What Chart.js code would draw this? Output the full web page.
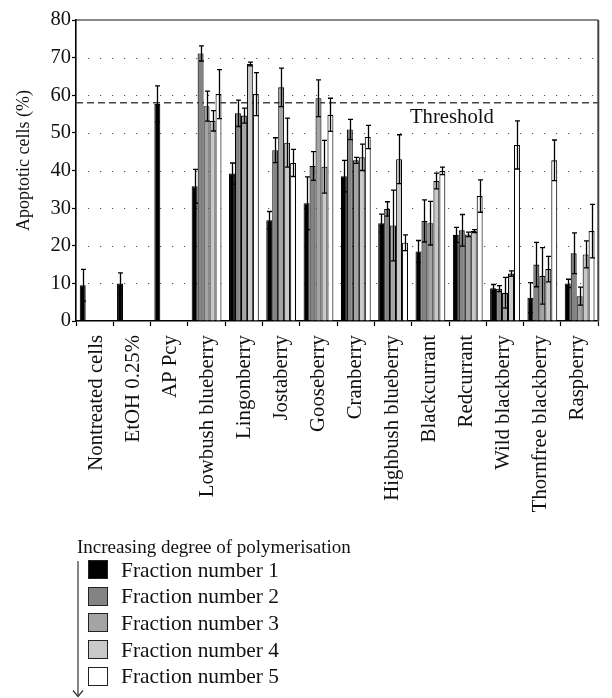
<!DOCTYPE html>
<html>
<head>
<meta charset="utf-8">
<script src="https://cdn.jsdelivr.net/npm/chart.js@4/dist/chart.umd.min.js"></script>
<style>
html,body{margin:0;padding:0;background:#fff;}
#wrap{position:relative;width:612px;height:698px;overflow:hidden;}
#c{position:absolute;left:0;top:0;}
.lg{position:absolute;font-family:"Liberation Serif","DejaVu Serif",serif;color:#111;white-space:nowrap;}
.box{position:absolute;box-sizing:border-box;border:1.3px solid #222;}
svg{position:absolute;left:0;top:0;pointer-events:none;}
</style>
</head>
<body>
<div id="wrap">
<canvas id="c" width="612" height="698"></canvas>
<div id="legend"></div>
<svg width="612" height="698"><line x1="78" y1="561" x2="78" y2="696" stroke="#333" stroke-width="1.2"/><polyline points="73,690.5 78,696.5 83,690.5" fill="none" stroke="#333" stroke-width="1.2"/></svg>
</div>
<script>
// ---- data ----
const categories = ['Nontreated cells','EtOH 0.25%','AP Pcy','Lowbush blueberry','Lingonberry','Jostaberry','Gooseberry','Cranberry','Highbush blueberry','Blackcurrant','Redcurrant','Wild blackberry','Thornfree blackberry','Raspberry'];
const seriesLabels = ['Fraction number 1','Fraction number 2','Fraction number 3','Fraction number 4','Fraction number 5'];
const fraction1 = [9.5, 10.0, 57.7, 35.8, 39.2, 26.8, 31.3, 38.5, 26.0, 18.5, 22.9, 8.7, 6.2, 10.0];
const fraction2 = [0, 0, 0, 71.1, 55.2, 45.4, 41.2, 50.9, 29.8, 26.6, 24.1, 8.6, 15.0, 18.0];
const fraction3 = [0, 0, 0, 57.1, 54.6, 62.1, 59.2, 42.7, 25.4, 26.0, 23.0, 7.5, 12.0, 6.6];
const fraction4 = [0, 0, 0, 53.2, 68.3, 47.4, 41.0, 43.5, 43.0, 37.2, 23.9, 12.6, 13.8, 17.7];
const fraction5 = [0, 0, 0, 60.3, 60.3, 42.0, 54.8, 48.9, 20.8, 39.9, 33.2, 46.8, 42.7, 23.9];
const error1 = [4.2, 2.8, 4.8, 4.5, 2.8, 2.3, 7.0, 4.2, 2.4, 2.9, 2.0, 1.0, 4.0, 1.1];
const error2 = [0, 0, 0, 2.0, 3.5, 3.3, 3.8, 2.7, 1.9, 5.6, 4.2, 0.8, 5.9, 5.4];
const error3 = [0, 0, 0, 4.0, 2.0, 5.1, 4.9, 0.8, 9.4, 5.8, 0.6, 4.1, 7.5, 2.4];
const error4 = [0, 0, 0, 2.7, 0.5, 6.5, 7.0, 3.5, 6.5, 2.1, 0.4, 0.7, 3.4, 3.6];
const error5 = [0, 0, 0, 6.5, 5.7, 3.6, 4.4, 3.1, 2.1, 1.0, 4.3, 6.4, 5.4, 7.1];
const yTicks = [0, 10, 20, 30, 40, 50, 60, 70, 80];
const thresholdValue = 58;
const thresholdLabel = 'Threshold';
const yAxisTitle = 'Apoptotic cells (%)';
const legendTitle = 'Increasing degree of polymerisation';

// ---- styling ----
const SERIF = '"Liberation Serif","DejaVu Serif",serif';
const fills = ['#000000', '#838383', '#a4a4a4', '#c9c9c9', '#ffffff'];
const values = [fraction1, fraction2, fraction3, fraction4, fraction5];
const errors = [error1, error2, error3, error4, error5];

const datasets = seriesLabels.map((lab, i) => ({
  label: lab,
  data: values[i],
  backgroundColor: fills[i],
  borderColor: '#000',
  borderWidth: 1.1,
  categoryPercentage: 0.8,
  barPercentage: 1.0
}));

const decor = {
  id: 'decor',
  beforeDatasetsDraw(chart) {
    const ctx = chart.ctx, a = chart.chartArea, y = chart.scales.y;
    ctx.save();
    // dotted grid
    ctx.strokeStyle = '#555';
    ctx.lineWidth = 1;
    ctx.setLineDash([1.2, 10.8]);
    yTicks.forEach(v => {
      if (v === yTicks[0] || v === yTicks[yTicks.length - 1]) return;
      const py = Math.round(y.getPixelForValue(v)) + 0.5;
      ctx.beginPath(); ctx.moveTo(a.left + 12, py); ctx.lineTo(a.right, py); ctx.stroke();
    });
    // threshold
    ctx.setLineDash([7, 4]);
    ctx.strokeStyle = '#444';
    ctx.lineWidth = 1.6;
    const ty = y.getPixelForValue(thresholdValue);
    ctx.beginPath(); ctx.moveTo(a.left, ty); ctx.lineTo(a.right, ty); ctx.stroke();
    // frame
    ctx.setLineDash([]);
    ctx.strokeStyle = '#111';
    ctx.lineWidth = 1.2;
    ctx.beginPath(); ctx.moveTo(a.left, a.top); ctx.lineTo(a.right, a.top); ctx.stroke();
    ctx.strokeStyle = '#444';
    ctx.lineWidth = 2;
    ctx.beginPath(); ctx.moveTo(a.right, a.top); ctx.lineTo(a.right, a.bottom); ctx.stroke();
    ctx.restore();
  },
  afterDatasetsDraw(chart) {
    const ctx = chart.ctx, a = chart.chartArea, y = chart.scales.y;
    ctx.save();
    ctx.strokeStyle = '#000';
    ctx.lineWidth = 1.3;
    values.forEach((vals, i) => {
      const meta = chart.getDatasetMeta(i);
      meta.data.forEach((bar, j) => {
        const e = errors[i][j];
        if (!e) return;
        const x = Math.round(bar.x) + 0.5;
        const top = y.getPixelForValue(vals[j] + e);
        const bot = y.getPixelForValue(vals[j] - e);
        ctx.beginPath();
        ctx.moveTo(x, top); ctx.lineTo(x, bot);
        ctx.moveTo(x - 2.5, top); ctx.lineTo(x + 2.5, top);
        ctx.moveTo(x - 2.5, bot); ctx.lineTo(x + 2.5, bot);
        ctx.stroke();
      });
    });
    // threshold label
    ctx.fillStyle = '#111';
    ctx.font = '20.7px ' + SERIF;
    ctx.textAlign = 'left';
    ctx.textBaseline = 'alphabetic';
    ctx.fillText(thresholdLabel, a.left + 0.6394 * (a.right - a.left), y.getPixelForValue(thresholdValue) + 20);
    // y axis title
    ctx.translate(24, (a.top + a.bottom) / 2 - 10);
    ctx.rotate(-Math.PI / 2);
    ctx.font = '18px ' + SERIF;
    ctx.textAlign = 'center';
    ctx.textBaseline = 'middle';
    ctx.fillText(yAxisTitle, 0, 0);
    ctx.restore();
  }
};

new Chart(document.getElementById('c'), {
  type: 'bar',
  data: { labels: categories, datasets },
  options: {
    responsive: false,
    animation: false,
    layout: { padding: { top: 20, right: 11, bottom: 173, left: 0 } },
    plugins: { legend: { display: false }, tooltip: { enabled: false } },
    scales: {
      x: {
        type: 'category', position: 'bottom', weight: 0, offset: true,
        grid: { display: true, offset: true, drawOnChartArea: false, drawTicks: true, tickLength: 5, tickColor: '#000', tickWidth: 1.2 },
        border: { display: true, color: '#000', width: 1.6 },
        ticks: { display: false },
        afterFit: s => { s.height = 5; }
      },
      xl: {
        type: 'linear', position: 'bottom', weight: 1, min: -0.0474, max: 13.058,
        grid: { display: false, drawTicks: false },
        border: { display: false },
        afterBuildTicks: s => { s.ticks = categories.map((_, i) => ({ value: i })); },
        ticks: {
          autoSkip: false, maxRotation: 90, minRotation: 90, padding: 9, color: '#111',
          font: { family: SERIF, size: 20.8 },
          callback: v => categories[v]
        },
        afterFit: s => { s.height = 199; }
      },
      y: {
        min: 0, max: 80,
        afterBuildTicks: s => { s.ticks = yTicks.map(v => ({ value: v })); },
        grid: { drawOnChartArea: false, drawTicks: true, tickLength: 4, tickColor: '#000', tickWidth: 1.2 },
        border: { display: true, color: '#000', width: 1.6 },
        ticks: { padding: 1, color: '#111', font: { family: SERIF, size: 20.5 } },
        title: { display: false },
        afterFit: s => { s.width = 76; }
      }
    }
  },
  plugins: [decor]
});

// ---- legend (HTML text) ----
const lg = document.getElementById('legend');
const head = document.createElement('div');
head.className = 'lg';
head.style.cssText = 'left:77px;top:536px;font-size:19px;line-height:22px;';
head.textContent = legendTitle;
lg.appendChild(head);
seriesLabels.forEach((lab, i) => {
  const top = 560 + i * 26.67;
  const b = document.createElement('div');
  b.className = 'box';
  b.style.cssText = `left:88px;top:${top}px;width:20px;height:19px;background:${fills[i]};`;
  lg.appendChild(b);
  const t = document.createElement('div');
  t.className = 'lg';
  t.style.cssText = `left:121px;top:${top - 2.5}px;font-size:21.4px;line-height:24px;`;
  t.textContent = lab;
  lg.appendChild(t);
});
</script>
</body>
</html>
